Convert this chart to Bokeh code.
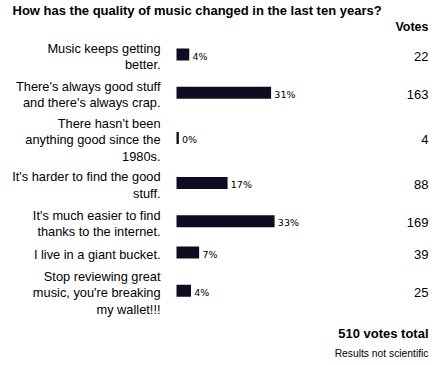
from bokeh.plotting import figure
from bokeh.models import ColumnDataSource, Range1d
from bokeh.core.properties import value
from bokeh.embed import file_html
from bokeh.resources import INLINE

# ---- data ----
title = "How has the quality of music changed in the last ten years?"
answers = [
    "Music keeps getting\nbetter.",
    "There's always good stuff\nand there's always crap.",
    "There hasn't been\nanything good since the\n1980s.",
    "It's harder to find the good\nstuff.",
    "It's much easier to find\nthanks to the internet.",
    "I live in a giant bucket.",
    "Stop reviewing great\nmusic, you're breaking\nmy wallet!!!",
]
votes = [22, 163, 4, 88, 169, 39, 25]
total = sum(votes)
footer_total = f"{total} votes total"
footer_note = "Results not scientific"

# ---- layout (pixel-like constants) ----
W, H = 444, 365
BAR_X0 = 176          # px where bars start
PX_PER_PCT = 2.96     # px per percent
LINE_H = 14
GAP = 10.2
FIRST_Y = 54

def px(xpx):
    return (xpx - BAR_X0) / PX_PER_PCT

pct = [v / total * 100 for v in votes]
pct_lbl = [f"{int(p)}%" for p in pct]
nlines = [a.count("\n") + 1 for a in answers]
yc = [FIRST_Y]
for i in range(1, len(answers)):
    yc.append(yc[-1] + (nlines[i - 1] + nlines[i]) * LINE_H / 2 + GAP)

src = ColumnDataSource(dict(
    answer=answers, votes=[str(v) for v in votes], pct=pct, pct_lbl=pct_lbl,
    y=yc, ylab=[y + 2 for y in yc], yv=[y + 1.5 for y in yc],
    xlab=[p + 1.1 for p in pct],
))

p = figure(width=W, height=H, output_backend="svg", toolbar_location=None,
           x_range=Range1d(px(0), px(W)), y_range=Range1d(H, 0),
           min_border=0, outline_line_color=None)
p.axis.visible = False
p.grid.visible = False
p.background_fill_color = "white"
p.border_fill_color = "white"

p.hbar(y="y", left=0, right="pct", height=12, source=src,
       fill_color="#100b20", line_color=None)

p.text(x=px(160), y="ylab", text="answer", source=src, text_align="right",
       text_baseline="middle", text_font=value("Liberation Sans"),
       text_font_size="12.8px", text_line_height=14 / 12.8, text_color="#000000")

p.text(x="xlab", y="yv", text="pct_lbl", source=src, text_align="left",
       text_baseline="middle", text_font=value("DejaVu Sans"),
       text_font_size="9.5px", text_color="#000000")

p.text(x=px(428), y="yv", text="votes", source=src, text_align="right",
       text_baseline="middle", text_font=value("Liberation Sans"),
       text_font_size="13px", text_color="#000000")

p.text(x=[px(12)], y=[10], text=[title], text_align="left", text_baseline="middle",
       text_font=value("Liberation Sans"), text_font_style="bold",
       text_font_size="13px", text_color="#000000")
p.text(x=[px(428)], y=[26], text=["Votes"], text_align="right", text_baseline="middle",
       text_font=value("Liberation Sans"), text_font_style="bold",
       text_font_size="12.5px", text_color="#000000")
p.text(x=[px(428)], y=[333], text=[footer_total], text_align="right", text_baseline="middle",
       text_font=value("Liberation Sans"), text_font_style="bold",
       text_font_size="13px", text_color="#000000")
p.text(x=[px(428)], y=[353], text=[footer_note], text_align="right", text_baseline="middle",
       text_font=value("Liberation Sans"), text_font_size="10.3px", text_color="#000000")

open("out.html", "w").write(file_html(p, INLINE))
